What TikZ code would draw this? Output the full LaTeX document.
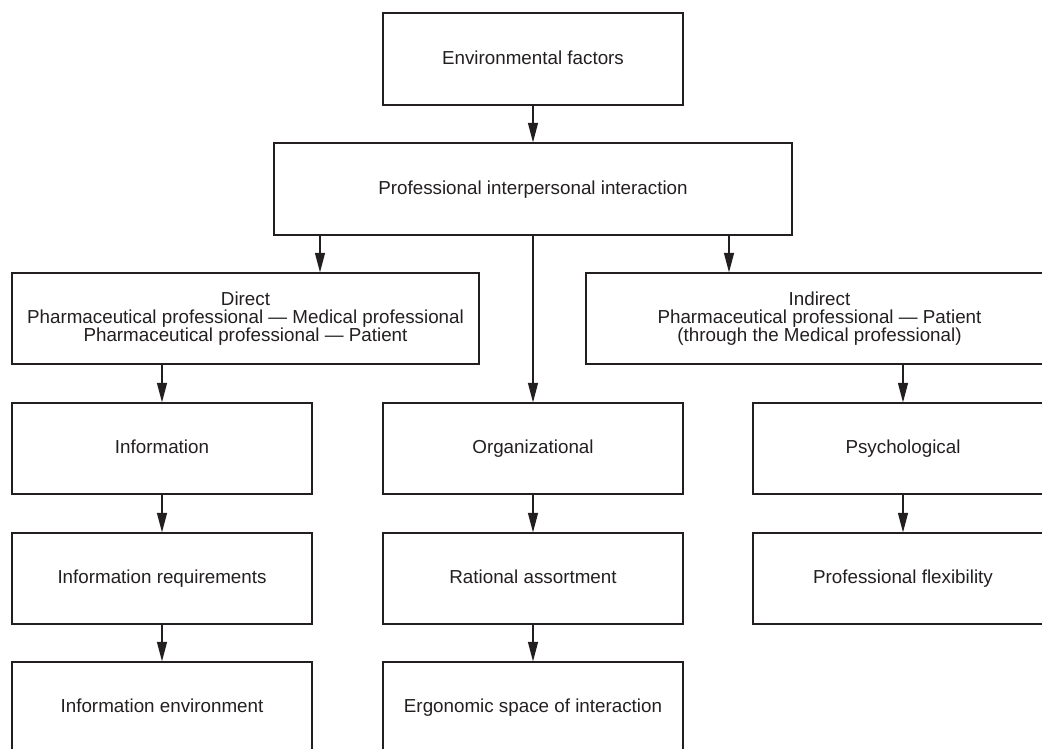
\documentclass[tikz,border=0pt]{standalone}
\usepackage{fontspec}
\setmainfont{Liberation Sans}
\usepackage{tikz}
\usetikzlibrary{arrows.meta}
\definecolor{flowink}{HTML}{231F20}

\begin{document}
\begin{tikzpicture}[x=0.02cm, y=-0.02cm,
  box/.style={draw=flowink, line width=0.7pt, text=flowink, align=center,
    minimum height=1.82cm, inner sep=0pt, font=\fontsize{10.7}{10.4}\selectfont},
  oneline/.style={box, minimum width=6cm, text height=1.55ex, text depth=0.45ex},
  flow/.style={draw=flowink, line width=0.7pt, -{Triangle[length=3.9mm, width=2mm]}}]
  \useasboundingbox (0,0) rectangle (1042,749);
  \clip (0,0) rectangle (1042,749);
  % Top of the scheme
  \node[oneline, minimum height=1.84cm] (env) at (533, 59) {Environmental factors};
  \node[oneline, minimum width=10.36cm, minimum height=1.84cm] (prof) at (533, 189) {Professional interpersonal interaction};
  % Direct and indirect interaction
  \node[box, minimum width=9.34cm] (direct) at (245.5, 318.5)
    {Direct\\Pharmaceutical professional — Medical professional\\Pharmaceutical professional — Patient};
  \node[box, minimum width=9.34cm] (indirect) at (819.5, 318.5)
    {Indirect\\Pharmaceutical professional — Patient\\(through the Medical professional)};
  % Three columns
  \node[oneline] (info) at (162, 448.5) {Information};
  \node[oneline] (org) at (533, 448.5) {Organizational};
  \node[oneline] (psych) at (903, 448.5) {Psychological};
  \node[oneline] (inforeq) at (162, 578.5) {Information requirements};
  \node[oneline] (assort) at (533, 578.5) {Rational assortment};
  \node[oneline] (flex) at (903, 578.5) {Professional flexibility};
  \node[oneline] (infoenv) at (162, 707.5) {Information environment};
  \node[oneline] (ergo) at (533, 707.5) {Ergonomic space of interaction};
  % Arrows
  \draw[flow] (env) -- (prof);
  \draw[flow] (prof.south -| 320,0) -- (direct.north -| 320,0);
  \draw[flow] (prof.south -| 729,0) -- (indirect.north -| 729,0);
  \draw[flow] (prof) -- (org);
  \draw[flow] (direct.south -| info) -- (info);
  \draw[flow] (indirect.south -| psych) -- (psych);
  \draw[flow] (info) -- (inforeq);
  \draw[flow] (inforeq) -- (infoenv);
  \draw[flow] (org) -- (assort);
  \draw[flow] (assort) -- (ergo);
  \draw[flow] (psych) -- (flex);
\end{tikzpicture}
\end{document}
